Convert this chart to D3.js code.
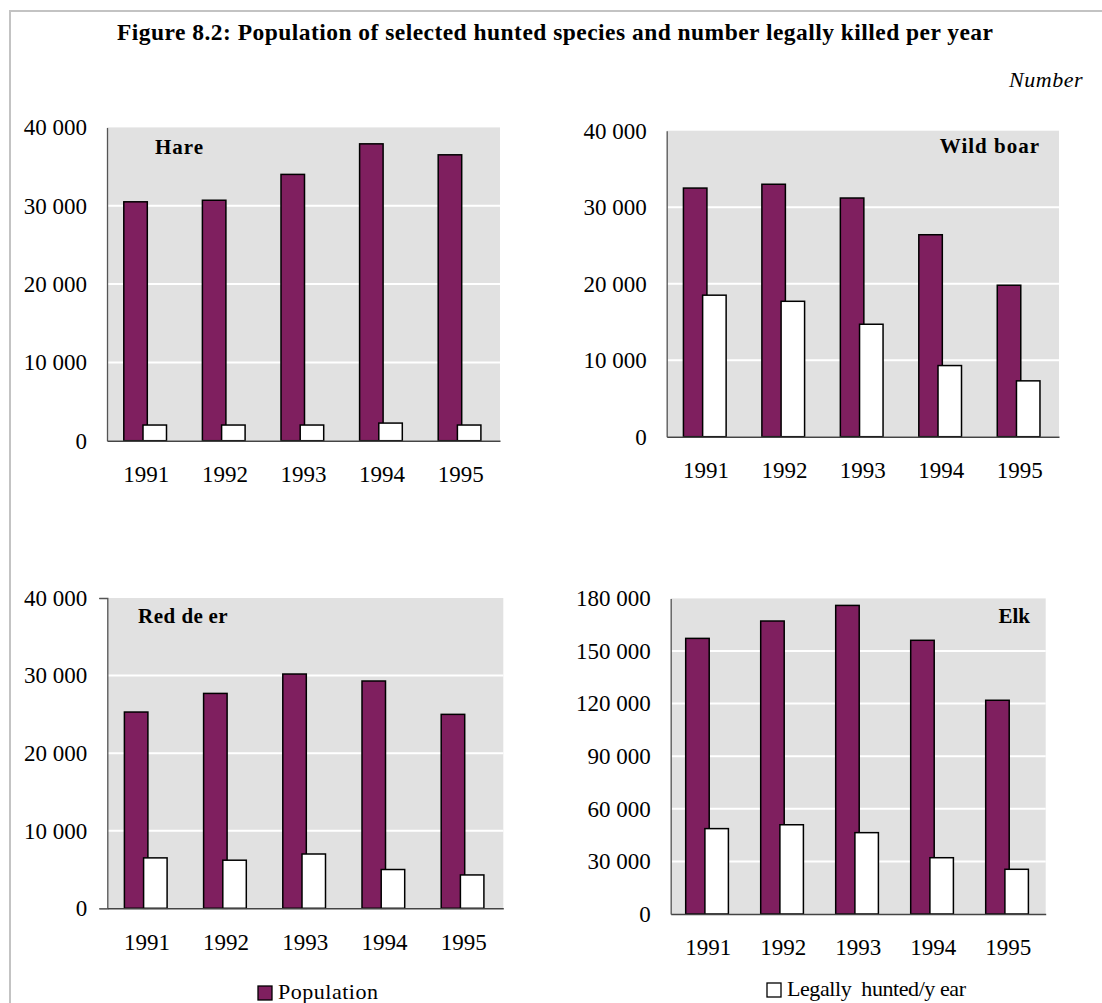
<!DOCTYPE html>
<html>
<head>
<meta charset="utf-8">
<script src="https://cdn.jsdelivr.net/npm/d3@7"></script>
<style>
  body { margin: 0; background: #fff; }
  text { font-family: 'Liberation Serif', 'Times New Roman', serif; fill: #000; }
</style>
</head>
<body>
<div class="display"></div>
<script>
const WIDTH = 1102;
const HEIGHT = 1003;

const POP_COLOR = '#7f1f5f';
const KILL_COLOR = '#ffffff';
const PLOT_BG = '#e1e1e1';

const TITLE = 'Figure 8.2: Population of selected hunted species and number legally killed per year';
const UNIT = 'Number';

const YEARS = ['1991', '1992', '1993', '1994', '1995'];

const HARE_POP = [30500, 30700, 34000, 37900, 36500];
const HARE_KILLED = [2000, 2000, 2000, 2250, 2000];

const BOAR_POP = [32500, 33000, 31200, 26400, 19800];
const BOAR_KILLED = [18500, 17700, 14700, 9300, 7300];

const DEER_POP = [25300, 27700, 30200, 29300, 25000];
const DEER_KILLED = [6500, 6200, 7000, 5000, 4300];

const ELK_POP = [157200, 167100, 176000, 156100, 121900];
const ELK_KILLED = [48700, 50900, 46400, 32100, 25500];

const TICKS_40K = [0, 10000, 20000, 30000, 40000];
const TICKS_180K = [0, 30000, 60000, 90000, 120000, 150000, 180000];

const LEGEND_LABELS = ['Population', 'Legally  hunted/y ear'];

const BAR_W = 23.5;
const AXIS_FONT = '23px';

let svg;

const fmt = v => d3.format(',')(v).replace(/,/g, ' ');

function setupSvg() {
  svg = d3.select('.display')
    .append('svg')
    .attr('width', WIDTH)
    .attr('height', HEIGHT);

  // frame
  svg.append('path')
    .attr('d', `M10,${HEIGHT} L10,11 L${WIDTH},11`)
    .attr('fill', 'none')
    .attr('stroke', '#c3c3c3')
    .attr('stroke-width', 2);

  svg.append('text')
    .attr('x', 117)
    .attr('y', 40)
    .attr('textLength', 876)
    .attr('lengthAdjust', 'spacing')
    .style('font-size', '23.5px')
    .style('font-weight', 'bold')
    .text(TITLE);

  svg.append('text')
    .attr('x', 1083)
    .attr('y', 87)
    .attr('text-anchor', 'end')
    .style('font-size', '22px')
    .style('font-style', 'italic')
    .style('letter-spacing', '0.5px')
    .text(UNIT);
}

function drawPanel(p) {
  const g = svg.append('g');

  const x = d3.scaleBand()
    .domain(YEARS)
    .range([p.left, p.right]);

  const y = d3.scaleLinear()
    .domain([0, p.ticks[p.ticks.length - 1]])
    .range([p.bottom, p.top]);

  g.append('rect')
    .attr('x', p.left)
    .attr('y', y.range()[1])
    .attr('width', p.right - p.left)
    .attr('height', p.bottom - p.top)
    .attr('fill', PLOT_BG);

  // white gridlines
  g.selectAll('.grid')
    .data(p.ticks.slice(1, -1))
    .enter()
    .append('line')
    .attr('x1', p.left)
    .attr('x2', p.right)
    .attr('y1', d => y(d))
    .attr('y2', d => y(d))
    .attr('stroke', '#ffffff')
    .attr('stroke-width', 2);

  const c = d => x(d) + x.bandwidth() / 2;

  g.selectAll('.pop')
    .data(YEARS)
    .enter()
    .append('rect')
    .attr('x', d => c(d) - 22.5)
    .attr('y', (d, i) => y(p.pop[i]))
    .attr('width', BAR_W)
    .attr('height', (d, i) => p.bottom - y(p.pop[i]))
    .attr('fill', POP_COLOR)
    .attr('stroke', '#000')
    .attr('stroke-width', 1.5);

  g.selectAll('.killed')
    .data(YEARS)
    .enter()
    .append('rect')
    .attr('x', d => c(d) - 3.3)
    .attr('y', (d, i) => y(p.killed[i]))
    .attr('width', BAR_W)
    .attr('height', (d, i) => p.bottom - y(p.killed[i]))
    .attr('fill', KILL_COLOR)
    .attr('stroke', '#000')
    .attr('stroke-width', 1.5);

  // y axis
  const yAxis = g.append('g')
    .attr('transform', `translate(${p.left}, 0)`)
    .call(d3.axisLeft(y).tickValues(p.ticks).tickSize(p.endTicks ? 8 : 0).tickPadding(p.endTicks ? 12 : 20).tickFormat(fmt));
  yAxis.select('.domain').attr('stroke', '#555').attr('stroke-width', 1.3);
  yAxis.selectAll('.tick line')
    .attr('stroke', '#555')
    .style('display', d => (d === 0 || d === p.ticks[p.ticks.length - 1]) ? null : 'none');
  yAxis.selectAll('text')
    .style('font-size', AXIS_FONT)
    .style('font-family', "'Liberation Serif', 'Times New Roman', serif")
    .attr('fill', '#000');

  // x axis
  const xAxis = g.append('g')
    .attr('transform', `translate(0, ${p.bottom})`)
    .call(d3.axisBottom(x).tickSize(0).tickPadding(25));
  xAxis.select('.domain').attr('stroke', '#444').attr('stroke-width', 1.5);
  xAxis.selectAll('text')
    .style('font-size', AXIS_FONT)
    .style('font-family', "'Liberation Serif', 'Times New Roman', serif")
    .attr('fill', '#000');

  const t = g.append('text')
    .attr('x', p.titleX)
    .attr('y', p.titleY)
    .attr('text-anchor', p.titleAnchor)
    .style('font-size', '21px')
    .style('font-weight', 'bold')
    .style('letter-spacing', p.spacing || '1px');
  p.name.forEach((part, i) => {
    t.append('tspan').attr('dx', i ? 5 : 0).text(part);
  });
}

function drawLegend() {
  const items = [
    { label: LEGEND_LABELS[0], fill: POP_COLOR, x: 258, y: 986, len: 100 },
    { label: LEGEND_LABELS[1], fill: KILL_COLOR, x: 767, y: 983, len: 179 }
  ];
  items.forEach(it => {
    svg.append('rect')
      .attr('x', it.x)
      .attr('y', it.y)
      .attr('width', 14)
      .attr('height', 14)
      .attr('fill', it.fill)
      .attr('stroke', '#000')
      .attr('stroke-width', 1.3);
    svg.append('text')
      .attr('x', it.x + 20)
      .attr('y', it.y + 13)
      .attr('textLength', it.len)
      .attr('lengthAdjust', 'spacing')
      .style('font-size', '22px')
      .style('white-space', 'pre')
      .text(it.label);
  });
}

window.addEventListener('load', () => {
  setupSvg();

  drawPanel({ name: ['Hare'], pop: HARE_POP, killed: HARE_KILLED, ticks: TICKS_40K,
    left: 107, right: 500, top: 127.4, bottom: 440.7,
    titleX: 155, titleY: 154, titleAnchor: 'start' });
  drawPanel({ name: ['Wild boar'], pop: BOAR_POP, killed: BOAR_KILLED, ticks: TICKS_40K,
    left: 666.7, right: 1059, top: 130.7, bottom: 436.7,
    titleX: 1040, titleY: 153, titleAnchor: 'end' });
  drawPanel({ name: ['Red de', 'er'], pop: DEER_POP, killed: DEER_KILLED, ticks: TICKS_40K,
    left: 107.3, right: 503.3, top: 598, bottom: 908.3, endTicks: true, spacing: '0.5px',
    titleX: 138, titleY: 623, titleAnchor: 'start' });
  drawPanel({ name: ['Elk'], pop: ELK_POP, killed: ELK_KILLED, ticks: TICKS_180K,
    left: 670.7, right: 1045.7, top: 598.4, bottom: 914, spacing: '0px',
    titleX: 1030, titleY: 623, titleAnchor: 'end' });

  drawLegend();
}, false);
</script>
</body>
</html>
